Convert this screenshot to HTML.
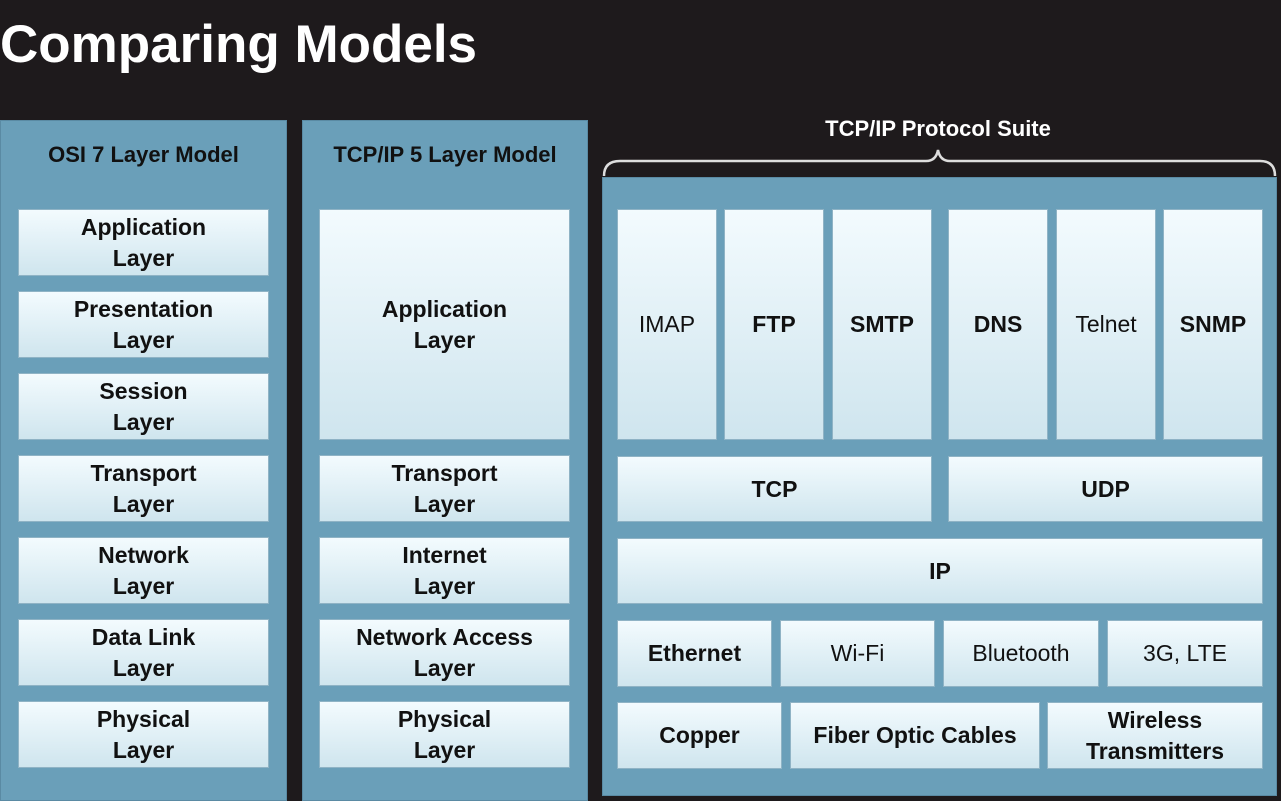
<!DOCTYPE html>
<html><head><meta charset="utf-8"><style>
body{margin:0;width:1281px;height:801px;background:#1e1a1c;position:relative;overflow:hidden;font-family:"Liberation Sans",Arial,sans-serif;}
.t{position:absolute;left:0;top:14px;color:#fff;font-weight:bold;font-size:53px;letter-spacing:0px;}
.p{position:absolute;background:#6a9fb9;border:1px solid #5a8aa3;box-sizing:border-box;}
.h{position:absolute;font-weight:bold;font-size:22px;color:#111;text-align:center;}
.b{position:absolute;box-sizing:border-box;background:linear-gradient(#f3fbfe,#cfe5ee);border:1px solid #8fb3c5;display:flex;align-items:center;justify-content:center;text-align:center;font-weight:bold;font-size:23px;line-height:31px;color:#111;}
.n{font-weight:normal;}
</style></head><body>
<div class="t">Comparing Models</div>
<div class="p" style="left:0;top:120px;width:287px;height:681px"></div>
<div class="p" style="left:302px;top:120px;width:286px;height:681px"></div>
<div class="p" style="left:602px;top:177px;width:675px;height:619px"></div>
<div class="h" style="left:0;top:142px;width:287px">OSI 7 Layer Model</div>
<div class="h" style="left:302px;top:142px;width:286px">TCP/IP 5 Layer Model</div>
<div class="h" style="left:738px;top:116px;width:400px;color:#fff">TCP/IP Protocol Suite</div>
<svg style="position:absolute;left:0;top:0" width="1281" height="801"><path d="M604 176 Q604 161 620 161 L926 161 Q936 161 938 150 Q940 161 950 161 L1260 161 Q1275 161 1275 176" fill="none" stroke="#ddd" stroke-width="2.5"/></svg>

<div class="b" style="left:18px;top:209px;width:251px;height:67px">Application<br>Layer</div>
<div class="b" style="left:18px;top:291px;width:251px;height:67px">Presentation<br>Layer</div>
<div class="b" style="left:18px;top:373px;width:251px;height:67px">Session<br>Layer</div>
<div class="b" style="left:18px;top:455px;width:251px;height:67px">Transport<br>Layer</div>
<div class="b" style="left:18px;top:537px;width:251px;height:67px">Network<br>Layer</div>
<div class="b" style="left:18px;top:619px;width:251px;height:67px">Data Link<br>Layer</div>
<div class="b" style="left:18px;top:701px;width:251px;height:67px">Physical<br>Layer</div>

<div class="b" style="left:319px;top:209px;width:251px;height:231px">Application<br>Layer</div>
<div class="b" style="left:319px;top:455px;width:251px;height:67px">Transport<br>Layer</div>
<div class="b" style="left:319px;top:537px;width:251px;height:67px">Internet<br>Layer</div>
<div class="b" style="left:319px;top:619px;width:251px;height:67px">Network Access<br>Layer</div>
<div class="b" style="left:319px;top:701px;width:251px;height:67px">Physical<br>Layer</div>

<div class="b n" style="left:617px;top:209px;width:100px;height:231px">IMAP</div>
<div class="b" style="left:724px;top:209px;width:100px;height:231px">FTP</div>
<div class="b" style="left:832px;top:209px;width:100px;height:231px">SMTP</div>
<div class="b" style="left:948px;top:209px;width:100px;height:231px">DNS</div>
<div class="b n" style="left:1056px;top:209px;width:100px;height:231px">Telnet</div>
<div class="b" style="left:1163px;top:209px;width:100px;height:231px">SNMP</div>
<div class="b" style="left:617px;top:456px;width:315px;height:66px">TCP</div>
<div class="b" style="left:948px;top:456px;width:315px;height:66px">UDP</div>
<div class="b" style="left:617px;top:538px;width:646px;height:66px">IP</div>
<div class="b" style="left:617px;top:620px;width:155px;height:67px">Ethernet</div>
<div class="b n" style="left:780px;top:620px;width:155px;height:67px">Wi-Fi</div>
<div class="b n" style="left:943px;top:620px;width:156px;height:67px">Bluetooth</div>
<div class="b n" style="left:1107px;top:620px;width:156px;height:67px">3G, LTE</div>
<div class="b" style="left:617px;top:702px;width:165px;height:67px">Copper</div>
<div class="b" style="left:790px;top:702px;width:250px;height:67px">Fiber Optic Cables</div>
<div class="b" style="left:1047px;top:702px;width:216px;height:67px">Wireless<br>Transmitters</div>
</body></html>
